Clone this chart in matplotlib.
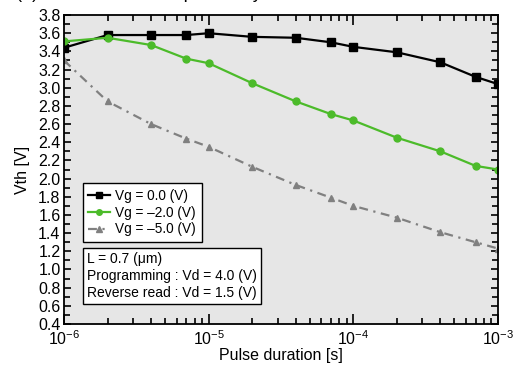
import matplotlib
matplotlib.use('Agg')
import matplotlib.pyplot as plt
from matplotlib.ticker import MultipleLocator, LogLocator
import numpy as np

plt.rcParams['font.family'] = ['Liberation Sans', 'DejaVu Sans']
plt.rcParams['mathtext.fontset'] = 'custom'
plt.rcParams['mathtext.rm'] = 'Liberation Sans'
plt.rcParams['mathtext.it'] = 'Liberation Sans:italic'

# pulse duration [s]
pulse = [1e-6, 2e-6, 4e-6, 7e-6, 1e-5, 2e-5, 4e-5, 7e-5, 1e-4, 2e-4, 4e-4, 7e-4, 1e-3]
vth_vg0 = [3.44, 3.58, 3.58, 3.58, 3.60, 3.56, 3.55, 3.50, 3.45, 3.39, 3.28, 3.12, 3.04]
vth_vg2 = [3.51, 3.55, 3.47, 3.32, 3.27, 3.05, 2.85, 2.71, 2.64, 2.45, 2.30, 2.14, 2.10]
vth_vg5 = [3.30, 2.85, 2.60, 2.44, 2.35, 2.13, 1.93, 1.79, 1.70, 1.57, 1.41, 1.30, 1.23]
labels = ['Vg = 0.0 (V)', 'Vg = –2.0 (V)', 'Vg = –5.0 (V)']

fig = plt.figure(figsize=(5.26, 3.67), dpi=100)
ax = fig.add_axes([0.1217, 0.1172, 0.825, 0.8418])
ax.set_facecolor('#e6e6e6')

ax.plot(pulse, vth_vg0, color='black', marker='s', markersize=6, linewidth=1.6,
        label=labels[0])
ax.plot(pulse, vth_vg2, color='#4cbb2a', marker='o', markersize=5, linewidth=1.6,
        label=labels[1])
ax.plot(pulse, vth_vg5, color='#808080', marker='^', markersize=5, linewidth=1.6,
        linestyle=(0, (4, 2.5, 1, 2.5)), label=labels[2])

ax.set_xscale('log')
ax.set_xlim(1e-6, 1e-3)
ax.set_ylim(0.4, 3.8)
ax.yaxis.set_major_locator(MultipleLocator(0.2))
ax.yaxis.set_minor_locator(MultipleLocator(0.1))
ax.xaxis.set_minor_locator(LogLocator(base=10, subs=np.arange(2, 10), numticks=20))
ax.yaxis.set_major_formatter(plt.FormatStrFormatter('%.1f'))

ax.tick_params(which='both', direction='in', top=True, right=True, width=1.2,
               labelsize=11.5, colors='black')
ax.tick_params(which='major', length=7, pad=2.5)
ax.tick_params(which='minor', length=4)
ax.tick_params(axis='y', which='major', length=5)
ax.tick_params(axis='x', which='major', pad=4)
for s in ax.spines.values():
    s.set_linewidth(1.3)

ax.set_xlabel('Pulse duration [s]', fontsize=11.5, labelpad=0)
ax.set_ylabel('Vth [V]', fontsize=11.5, labelpad=6)

leg = ax.legend(loc='upper left', bbox_to_anchor=(0.043, 0.455), fontsize=9.8,
                frameon=True, fancybox=False, edgecolor='black', framealpha=1,
                handlelength=1.6, handletextpad=0.4, borderpad=0.4,
                labelspacing=0.2, borderaxespad=0, markerscale=0.8)
leg.get_frame().set_linewidth(1.0)

ax.text(0.054, 0.232, 'L = 0.7 (μm)\nProgramming : Vd = 4.0 (V)\nReverse read : Vd = 1.5 (V)',
        transform=ax.transAxes, fontsize=10, va='top', ha='left', linespacing=1.25,
        bbox=dict(boxstyle='square,pad=0.3', facecolor='white', edgecolor='black',
                  linewidth=1.0))

# clipped panel title at the very top
fig.text(0.03, 1.017, '(a) Pulse duration dependency', fontsize=13, va='center', ha='left')

fig.savefig('out.png', dpi=100)
